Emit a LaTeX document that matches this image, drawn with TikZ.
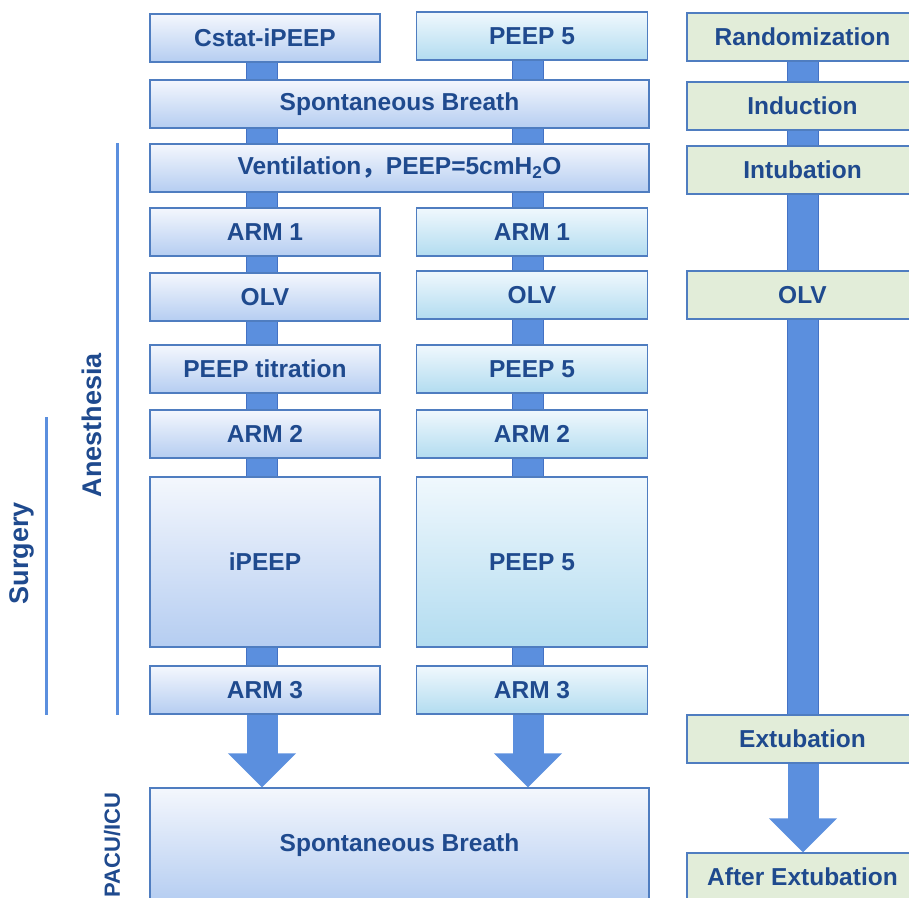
\documentclass[tikz,border=0pt]{standalone}
\usepackage{fontspec}
\setmainfont{Liberation Sans}
\newfontfamily\cjk{Noto Sans CJK SC}
\usetikzlibrary{arrows.meta,backgrounds}
\definecolor{blueT}{HTML}{F4F7FD}
\definecolor{blueB}{HTML}{B5CDF1}
\definecolor{cyanT}{HTML}{F0F8FD}
\definecolor{cyanB}{HTML}{B2DCF0}
\definecolor{greenF}{HTML}{E2EDD9}
\definecolor{boxedge}{HTML}{4F7DC0}
\definecolor{txtblue}{HTML}{1F4A8E}
\definecolor{barblue}{HTML}{5B8FDE}
\definecolor{baredge}{HTML}{4472C4}
\tikzset{
  box/.style={draw=boxedge,line width=1.3pt,minimum height=48pt,inner sep=0pt,
    font=\bfseries\fontsize{24.5}{28}\selectfont,text=txtblue},
  bluebox/.style={box,top color=blueT,bottom color=blueB,minimum width=230pt},
  cyanbox/.style={box,top color=cyanT,bottom color=cyanB,minimum width=231pt},
  greenbox/.style={box,fill=greenF,minimum width=231pt},
  bar/.style={line width=1pt,draw=baredge,double=barblue,double distance=30pt},
  bigarrow/.style={line width=31pt,draw=barblue,-{Triangle[width=66pt,length=34pt]}},
  sideline/.style={draw=barblue,line width=3pt},
  sidelabel/.style={rotate=90,text=txtblue,font=\bfseries\fontsize{27}{32}\selectfont}
}
\begin{document}
\begin{tikzpicture}[x=1pt,y=-1pt]
  \useasboundingbox (0,0) rectangle (909,897);
  % left arm: Cstat-iPEEP
  \foreach \n/\y/\t in {cstat/38/Cstat-iPEEP,armA/232/ARM 1,olvA/297/OLV,titr/369/PEEP titration,armB/434/ARM 2,armC/690/ARM 3}
    \node[bluebox] (\n) at (265,\y) {\t};
  \node[bluebox,minimum height=170pt] (ipeep) at (265,562) {iPEEP};
  % right arm: PEEP 5
  \foreach \n/\y/\t in {peepA/36/PEEP 5,armR1/232/ARM 1,olvB/295/OLV,peepB/369/PEEP 5,armR2/434/ARM 2,armR3/690/ARM 3}
    \node[cyanbox] (\n) at (532,\y) {\t};
  \node[cyanbox,minimum height=170pt] (peepC) at (532,562) {PEEP 5};
  % both arms
  \node[bluebox,minimum width=499pt] (sbA) at (399.5,104) {Spontaneous Breath};
  \node[bluebox,minimum width=499pt] (vent) at (399.5,168) {Ventilation{\cjk ，}PEEP=5cmH\textsubscript{2}O};
  \node[bluebox,minimum width=499pt,minimum height=114pt] (sbB) at (399.5,845) {Spontaneous Breath};
  % time line
  \foreach \n/\y/\t in {rand/37/Randomization,ind/106/Induction,intub/170/Intubation,olvT/295/OLV,extub/739/Extubation,after/877/After Extubation}
    \node[greenbox] (\n) at (802.5,\y) {\t};
  % bars
  \coordinate (barL) at (262,0);
  \coordinate (barR) at (528,0);
  \coordinate (barG) at (803,0);
  \begin{scope}[on background layer]
    \foreach \a/\b in {cstat/sbA,sbA/vent,vent/armA,armA/olvA,olvA/titr,titr/armB,armB/ipeep,ipeep/armC}
      \draw[bar] (\a.south -| barL) -- (\b.north -| barL);
    \foreach \a/\b in {peepA/sbA,sbA/vent,vent/armR1,armR1/olvB,olvB/peepB,peepB/armR2,armR2/peepC,peepC/armR3}
      \draw[bar] (\a.south -| barR) -- (\b.north -| barR);
    \foreach \a/\b in {rand/ind,ind/intub,intub/olvT,olvT/extub}
      \draw[bar] (\a.south -| barG) -- (\b.north -| barG);
  \end{scope}
  \draw[bigarrow] (armC.south -| barL) -- (sbB.north -| barL);
  \draw[bigarrow] (armR3.south -| barR) -- (sbB.north -| barR);
  \draw[bigarrow] (extub.south -| barG) -- (after.north -| barG);
  % phases
  \coordinate (anesX) at (117,0);
  \coordinate (surgTop) at (46,417);
  \draw[sideline] (vent.north -| anesX) -- (armC.south -| anesX);
  \draw[sideline] (surgTop) -- (armC.south -| surgTop);
  \node[sidelabel] (anes) at (92,425) {Anesthesia};
  \node[sidelabel] (surg) at (22,553) {Surgery};
  \node[sidelabel,font=\bfseries\fontsize{22}{26}\selectfont] (pacu) at (112,845) {PACU/ICU};
\end{tikzpicture}
\end{document}
